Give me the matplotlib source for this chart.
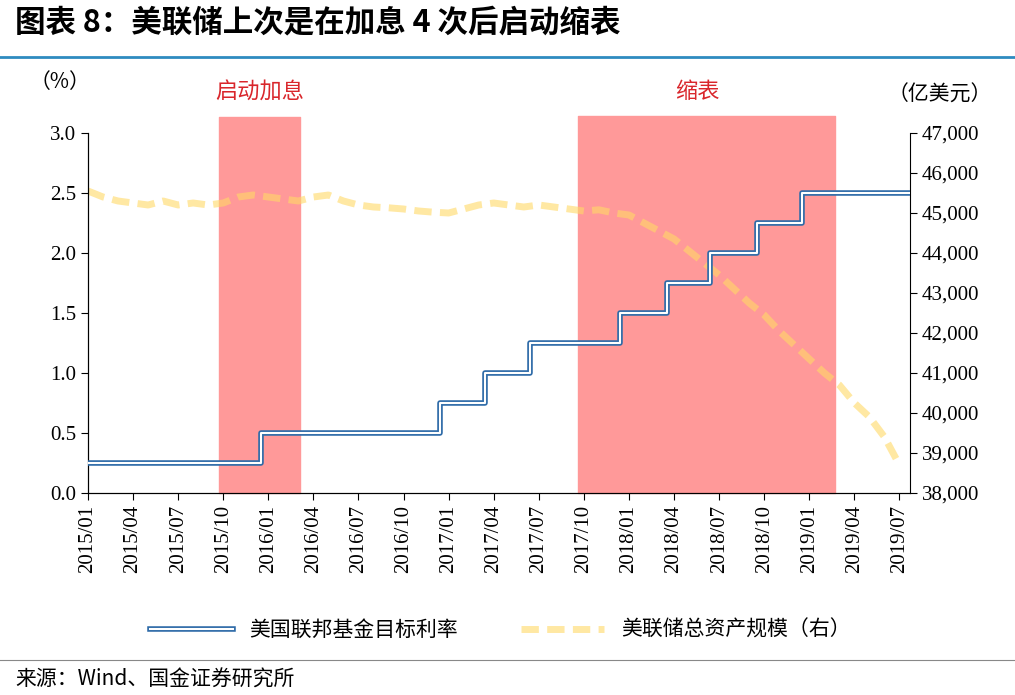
import matplotlib
matplotlib.use("Agg")
import matplotlib.pyplot as plt
import numpy as np

plt.rcParams['font.family'] = ['Liberation Serif', 'Noto Sans CJK SC']

# months index 0 = 2015/01
tick_labels = [f"{2015 + (m // 12)}/{m % 12 + 1:02d}" for m in range(0, 55, 3)]
# Fed funds target (upper) step changes: (month index of change, new rate)
rate_change_month = [0, 11.5, 23.4, 26.4, 29.4, 35.4, 38.5, 41.4, 44.5, 47.5, 54.7]
rate_values = [0.25, 0.5, 0.75, 1.0, 1.25, 1.5, 1.75, 2.0, 2.25, 2.5, 2.5]
# Fed total assets (亿美元), monthly 2015/01..2019/07
assets = [45550, 45400, 45300, 45250, 45200, 45300, 45200, 45250, 45200, 45250, 45400, 45450,
          45400, 45350, 45300, 45400, 45450, 45300, 45200, 45150, 45130, 45100, 45050, 45020,
          45000, 45100, 45200, 45250, 45200, 45150, 45200, 45150, 45100, 45050, 45080, 45000,
          44950, 44750, 44550, 44350, 44050, 43750, 43450, 43100, 42750, 42450, 42050, 41700,
          41350, 41000, 40700, 40250, 39900, 39400, 38700]
shade1 = (8.7, 14.1, 3.13)
shade2 = (32.6, 49.7, 3.14)

fig = plt.figure(figsize=(10.15, 6.95), dpi=100)
ax = fig.add_axes([88/1015, 1-493/695, 822/1015, 360/695])
ax2 = ax.twinx()

for s in (shade1, shade2):
    ax2.fill_between([s[0], s[1]], 38000, 38000 + s[2] * 3000, color='#FF9999', zorder=1, clip_on=False)

x = np.arange(len(assets))
ax2.plot(x, assets, color='#FFD966', alpha=0.6, lw=5, ls=(0, (2.5, 1.2)), zorder=2)

ax.step(rate_change_month, rate_values, where='post', color='#2E6BA8', lw=4, zorder=3)
ax.step(rate_change_month, rate_values, where='post', color='white', lw=1.5, zorder=4)
ax.set_zorder(ax2.get_zorder() + 1)
ax.patch.set_visible(False)

ax.set_xlim(0, 54.7)
ax.set_ylim(0, 3.0)
ax2.set_ylim(38000, 47000)
ax.set_yticks(np.arange(0, 3.01, 0.5))
ax.set_yticklabels([f"{v:.1f}" for v in np.arange(0, 3.01, 0.5)], fontsize=15)
ax2.set_yticks(np.arange(38000, 47001, 1000))
ax2.set_yticklabels([f"{v:,}" for v in range(38000, 47001, 1000)], fontsize=15)
ax.set_xticks(range(0, 55, 3))
ax.set_xticklabels(tick_labels, rotation=90, fontsize=15)
for a in (ax, ax2):
    a.spines['top'].set_visible(False)
    a.tick_params(direction='out', length=5)
ax.spines['right'].set_visible(False)

fig.text(60/1015, 1-82/695, '（%）', fontsize=15, ha='center', va='center', family=['Noto Sans CJK SC'])
fig.text(940/1015, 1-95/695, '（亿美元）', fontsize=15, ha='center', va='center', family=['Noto Sans CJK SC'])
fig.text(260/1015, 1-92/695, '启动加息', fontsize=16, color='#D9262B', ha='center', va='center', family=['Noto Sans CJK SC'])
fig.text(697/1015, 1-92/695, '缩表', fontsize=16, color='#D9262B', ha='center', va='center', family=['Noto Sans CJK SC'])

fig.text(15/1015, 1-22/695, '图表 8：美联储上次是在加息 4 次后启动缩表', fontsize=22, fontweight='bold',
         style='italic', ha='left', va='center', family=['Noto Sans CJK SC'])
fig.add_artist(plt.Line2D([0, 1], [1-57/695]*2, color='#2E8BC0', lw=2))
fig.add_artist(plt.Line2D([0, 1], [1-660/695]*2, color='#888888', lw=0.8))
fig.text(15/1015, 1-680/695, '来源：Wind、国金证券研究所', fontsize=15, ha='left', va='center', family=['Noto Sans CJK SC'])

from matplotlib.lines import Line2D
h1 = Line2D([], [], color='#2E6BA8', lw=4)
h1b = Line2D([], [], color='white', lw=1.5)
h2 = Line2D([], [], color='#FFD966', alpha=0.6, lw=5, ls=(0, (2.5, 1.2)))
leg = fig.legend([(h1, h1b), h2], ['美国联邦基金目标利率', '美联储总资产规模（右）'],
                 loc='center', bbox_to_anchor=(500/1015, 1-630/695), ncol=2, frameon=False,
                 prop={'family': 'Noto Sans CJK SC', 'size': 15}, handlelength=4, columnspacing=3)

fig.savefig('out.png', dpi=100)
